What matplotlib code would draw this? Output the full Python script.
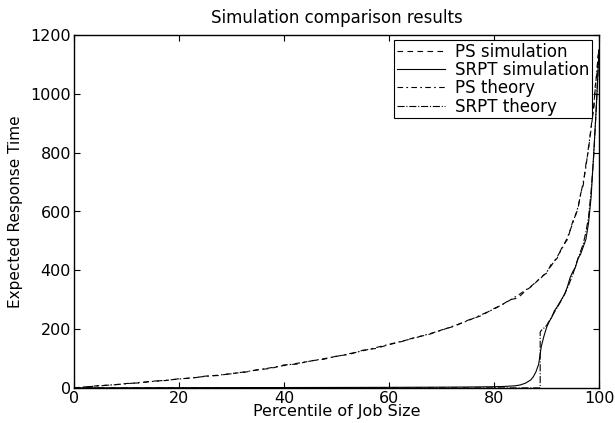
import matplotlib
matplotlib.use("Agg")
import matplotlib.pyplot as plt

plt.rcParams['font.family'] = ['DejaVu Sans']

# PS theory
ps_th_p = [0, 5, 10, 15, 20, 25, 30, 35, 40, 45, 50, 55, 60, 65, 70, 75, 80, 83, 85, 87,
           89, 90, 91, 92, 93, 94, 95, 96, 97, 97.5, 98, 98.5, 99, 99.3, 99.6, 99.8, 100]
ps_th_v = [0, 7, 14, 22, 30, 39, 48, 61, 76, 91, 107, 126, 148, 170, 196, 228, 268, 298, 320, 345,
           375, 393, 418, 445, 475, 512, 560, 615, 700, 750, 820, 880, 960, 1020, 1080, 1120, 1150]

# PS simulation (noisy)
ps_sim_p = [0, 2.5, 5, 7.5, 10, 12.5, 15, 17.5, 20, 22.5, 25, 27.5, 30, 32.5, 35, 37.5, 40,
            42.5, 45, 47.5, 50, 52.5, 55, 57.5, 60, 62.5, 65, 67.5, 70, 72.5, 75, 77.5, 80,
            81.5, 83, 84.5, 86, 87.5, 89, 90, 91, 92, 93, 94, 95, 95.5, 96, 96.5, 97, 97.5,
            98, 98.5, 99, 99.3, 99.6, 99.8, 100]
ps_sim_v = [0, 4, 8, 10, 15, 17, 23, 25, 31, 33, 40, 42, 49, 53, 62, 66, 78,
            81, 92, 97, 108, 114, 128, 134, 147, 158, 172, 181, 197, 210, 230, 245, 270,
            282, 300, 305, 330, 350, 378, 390, 424, 440, 480, 505, 566, 585, 610, 660, 690, 760,
            810, 890, 950, 1030, 1070, 1130, 1145]

# SRPT simulation
srpt_sim_p = [0, 10, 20, 30, 40, 50, 60, 70, 75, 80, 82, 84, 85, 86, 87, 87.5, 88, 88.5, 88.8,
              89, 89.5, 90, 90.5, 91, 91.5, 92, 92.5, 93, 93.5, 94, 94.5, 95, 95.5, 96, 96.5,
              97, 97.5, 98, 98.5, 99, 99.5, 100]
srpt_sim_v = [0, 0.3, 0.6, 0.9, 1.2, 1.5, 1.9, 2.5, 3, 4, 5, 7, 10, 16, 27, 38, 55, 80, 115,
              140, 175, 205, 225, 240, 262, 275, 290, 305, 320, 345, 375, 395, 410, 440, 455,
              480, 505, 560, 650, 800, 960, 1150]

# SRPT theory
srpt_th_p = [0, 88.8, 88.8, 89, 90, 91, 92, 93, 94, 95, 96, 97, 97.5, 98, 98.5, 99, 99.5, 100]
srpt_th_v = [0, 0, 190, 195, 212, 242, 272, 303, 340, 385, 440, 490, 530, 580, 670, 790, 960, 1150]

fig = plt.figure(figsize=(6.15, 4.23), dpi=100)
ax = fig.add_axes([0.120, 0.083, 0.854, 0.834])

ax.plot(ps_sim_p, ps_sim_v, color='black', lw=0.8, ls=(0, (5, 4)), label='PS simulation')
ax.plot(srpt_sim_p, srpt_sim_v, color='black', lw=0.8, ls='-', label='SRPT simulation')
ax.plot(ps_th_p, ps_th_v, color='black', lw=0.8, ls=(0, (5, 3, 1.5, 3)), label='PS theory')
ax.plot(srpt_th_p, srpt_th_v, color='black', lw=0.8, ls='-.', label='SRPT theory')

ax.set_xlim(0, 100)
ax.set_ylim(0, 1200)
ax.set_xticks([0, 20, 40, 60, 80, 100])
ax.set_yticks([0, 200, 400, 600, 800, 1000, 1200])
ax.tick_params(direction='in', top=True, right=True, labelsize=11.5, length=4, width=0.8, pad=2)
for s in ax.spines.values():
    s.set_linewidth(1.0)

ax.set_xlabel('Percentile of Job Size', fontsize=11.5, labelpad=-1)
ax.set_ylabel('Expected Response Time', fontsize=11, labelpad=5)
ax.set_title('Simulation comparison results', fontsize=12, pad=9)

leg = ax.legend(loc='upper right', bbox_to_anchor=(0.987, 0.986), fontsize=12, frameon=True,
                fancybox=False, edgecolor='black', framealpha=1, borderpad=0.15,
                labelspacing=0.02, handlelength=2.9, handletextpad=0.6, borderaxespad=0.0)
leg.get_frame().set_linewidth(0.8)

fig.savefig('out.png', dpi=100)
